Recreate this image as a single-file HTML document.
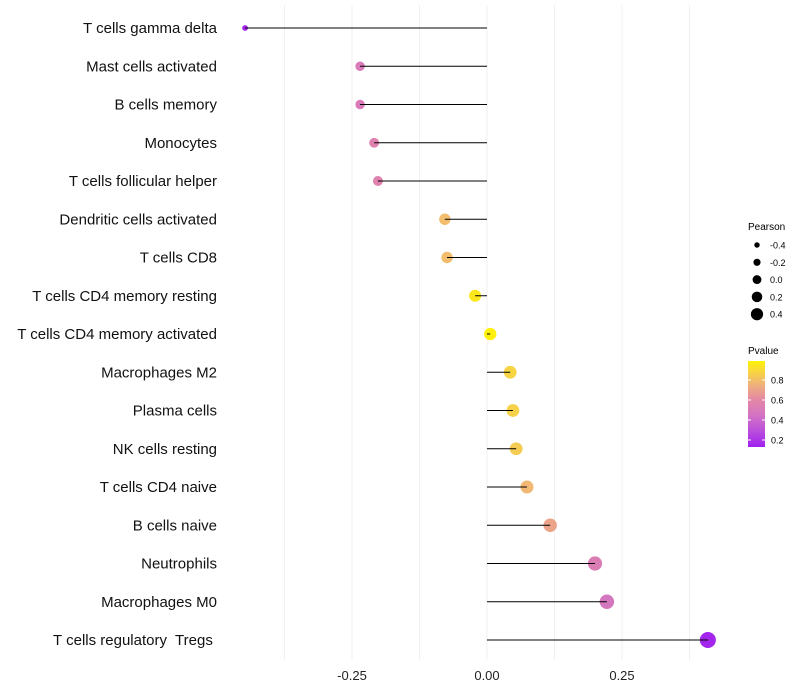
<!DOCTYPE html>
<html><head><meta charset="utf-8"><style>body{margin:0;background:#fff}svg{display:block;font-family:"Liberation Sans",sans-serif}</style></head>
<body>
<svg id="c" width="800" height="700"></svg>
<script>
const categories=["T cells gamma delta","Mast cells activated","B cells memory","Monocytes","T cells follicular helper","Dendritic cells activated","T cells CD8","T cells CD4 memory resting","T cells CD4 memory activated","Macrophages M2","Plasma cells","NK cells resting","T cells CD4 naive","B cells naive","Neutrophils","Macrophages M0","T cells regulatory  Tregs "];
const pearson=[-0.448,-0.235,-0.235,-0.209,-0.202,-0.078,-0.074,-0.022,0.006,0.043,0.048,0.054,0.074,0.117,0.2,0.222,0.409];
const pvalue=[0.15,0.5,0.5,0.55,0.56,0.8,0.8,0.95,0.98,0.88,0.87,0.85,0.78,0.7,0.52,0.47,0.15];
const xTicks=[-0.25,0,0.25];
const xTickLabels=["-0.25","0.00","0.25"];
const sizeLegend=[-0.4,-0.2,0,0.2,0.4];
const pTicks=[0.2,0.4,0.6,0.8];
const svg=document.getElementById('c'),NS="http://www.w3.org/2000/svg";
const X=v=>487+v*540, Y=i=>28+i*38.25, R=v=>4.5+v*5;
const RS=v=>Math.max(1.5,1.1*Math.sqrt(Math.max(0,31.2+54*v)));
const pY=p=>440-(p-0.2)*100;
function col(p){const s=[[0.13,[160,32,240]],[0.4,[205,110,205]],[0.6,[228,135,165]],[0.8,[242,190,110]],[1,[255,245,0]]];for(let i=1;i<s.length;i++){if(p<=s[i][0]){const a=s[i-1],b=s[i],t=(p-a[0])/(b[0]-a[0]);return "rgb("+a[1].map((c,k)=>Math.round(c+(b[1][k]-c)*t)).join(",")+")";}}return "rgb(255,245,0)";}
function el(t,a,p){const e=document.createElementNS(NS,t);for(const k in a)e.setAttribute(k,a[k]);(p||svg).appendChild(e);return e;}
[-0.375,-0.25,-0.125,0,0.125,0.25,0.375].forEach(v=>{const g=el('line',{x1:X(v),x2:X(v),y1:5,y2:660,stroke:"#f0f0f0","stroke-width":1});

});
xTicks.forEach((v,i)=>{const t=el('text',{x:X(v),y:680,"text-anchor":"middle","font-size":13,fill:"#222"});t.textContent=xTickLabels[i];

});
categories.forEach((c,i)=>{const t=el('text',{x:217,y:Y(i)+5,"text-anchor":"end","font-size":15,fill:"#111","xml:space":"preserve",style:"white-space:pre"});t.textContent=c;


const d=el('circle',{cx:X(pearson[i]),cy:Y(i),r:RS(pearson[i]),fill:col(pvalue[i])});


const l=el('line',{x1:X(0),x2:X(pearson[i]),y1:Y(i),y2:Y(i),stroke:"#000","stroke-width":1});

});
let t=el('text',{x:748,y:230,"font-size":10});t.textContent="Pearson";


sizeLegend.forEach((v,i)=>{const y=245+i*17.3;const c=el('circle',{cx:757,cy:y,r:R(v)*0.85+0.6,fill:"#000"});


const s=el('text',{x:770,y:y+3.5,"font-size":9});s.textContent=v.toFixed(1);

});
t=el('text',{x:748,y:354,"font-size":10});t.textContent="Pvalue";


const defs=el('defs',{});const g=el('linearGradient',{id:"pg",x1:0,y1:1,x2:0,y2:0},defs);
[0.13,0.3,0.45,0.6,0.75,0.9,0.99].forEach(p=>el('stop',{offset:(p-0.13)/0.86,"stop-color":col(p)},g));
const bar=el('rect',{x:748,y:361,width:17,height:86,fill:"url(#pg)"});


pTicks.forEach(p=>{const s=el('text',{x:771,y:pY(p)+3.5,"font-size":9});s.textContent=p.toFixed(1);


el('line',{x1:748,x2:751,y1:pY(p),y2:pY(p),stroke:"#fff"});el('line',{x1:762,x2:765,y1:pY(p),y2:pY(p),stroke:"#fff"});});
</script>
</body></html>
